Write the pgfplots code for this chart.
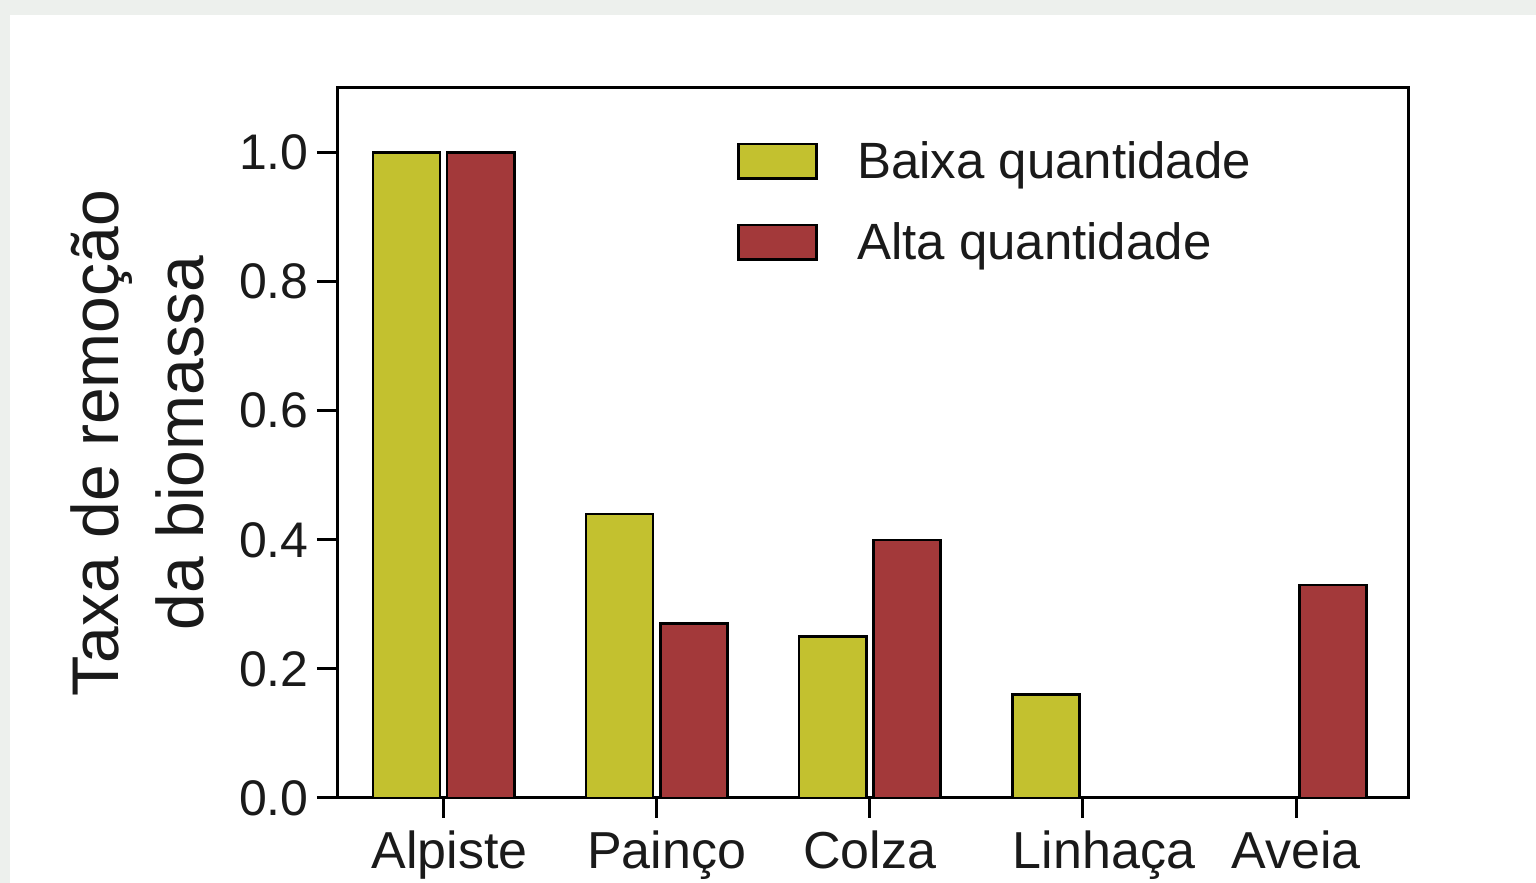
\documentclass[border=0pt]{standalone}
\usepackage{fontspec}
\setmainfont{Liberation Sans}
\usepackage{pgfplots}
\pgfplotsset{compat=1.18}
\definecolor{cY}{HTML}{C3C12F}
\definecolor{cR}{HTML}{A3393A}
\definecolor{bgc}{HTML}{EDF0ED}
\definecolor{txt}{HTML}{1A1A1A}
\begin{document}
\begin{tikzpicture}
\useasboundingbox (0,0) rectangle (768pt,441.5pt);
\fill[bgc] (0,0) rectangle (768pt,441.5pt);
\fill[white] (5pt,0) rectangle (768pt,434pt);
\begin{axis}[
  at={(168.5pt,42.5pt)}, anchor=south west,
  scale only axis, width=535.5pt, height=355pt,
  xmin=-0.5, xmax=4.525, ymin=0, ymax=1.1,
  xtick={0,1,2,3,4},
  xticklabels={\hspace{6pt}Alpiste,\hspace{10pt}Painço,Colza,\hspace{21pt}Linhaça,Aveia},
  ytick={0,0.2,0.4,0.6,0.8,1.0},
  tick label style={font=\fontsize{26pt}{31pt}\selectfont, text=txt},
  yticklabel style={/pgf/number format/fixed, /pgf/number format/fixed zerofill,
    /pgf/number format/precision=1, /pgf/number format/assume math mode=true,
    inner sep=0pt, xshift=-4pt, font=\fontsize{25pt}{30pt}\selectfont},
  xticklabel style={inner sep=0pt, yshift=-6pt},
  tick pos=left, tick align=outside,
  major tick length=10pt,
  tick style={line width=1.5pt, black},
  axis line style={line width=1.5pt, black},
  ylabel={Taxa de remoção\\da biomassa},
  ylabel style={font=\fontsize{33pt}{42.5pt}\selectfont, align=center, text=txt,
    at={(axis description cs:-0.1867,0.5)}, anchor=center},
  legend style={draw=none, fill=none, at={(rel axis cs:0.3679,0.9310)}, anchor=north west,
    font=\fontsize{25.5pt}{30pt}\selectfont, text=txt, column sep=19.5pt, row sep=20.6pt,
    nodes={inner sep=0pt}},
  legend cell align=left,
  legend image code/.code={\draw[#1, line width=1.3pt] (0pt,-8.6pt) rectangle (39pt,8.7pt);},
]
\addplot[ybar, bar width=0.315, bar shift=-0.174, fill=cY, draw=black, line width=1.3pt]
  coordinates {(0,1.0) (1,0.44) (2,0.25) (3,0.16)};
\addlegendentry{Baixa quantidade}
\addplot[ybar, bar width=0.315, bar shift=0.174, fill=cR, draw=black, line width=1.3pt]
  coordinates {(0,1.0) (1,0.27) (2,0.40) (4,0.33)};
\addlegendentry{Alta quantidade}
\end{axis}
\end{tikzpicture}
\end{document}
